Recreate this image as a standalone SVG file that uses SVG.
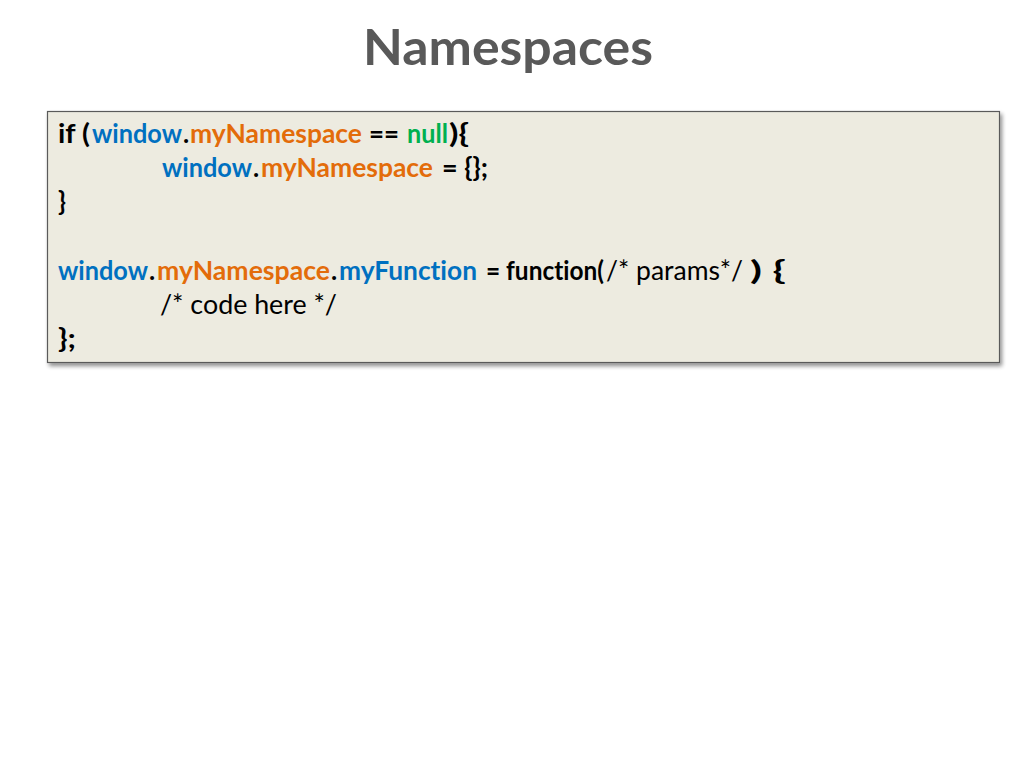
<svg xmlns="http://www.w3.org/2000/svg" width="1024" height="768" viewBox="0 0 1024 768">
  <style>
    .title { font-family: Lato, "Open Sans", "Liberation Sans", sans-serif; font-weight: 700; font-size: 50px; fill: #595959; }
    .code { font-family: Lato, "Open Sans", "Liberation Sans", sans-serif; font-weight: 700; font-size: 26px; fill: #000000; font-variant-ligatures: none; }
    .reg { font-weight: 400; }
    .b { fill: #0070C0; }
    .o { fill: #E36C0A; }
    .g { fill: #00B050; }
  </style>
  <defs>
    <filter id="shadow" x="-5%" y="-5%" width="110%" height="115%">
      <feGaussianBlur in="SourceAlpha" stdDeviation="2"/>
      <feOffset dx="2" dy="3" result="off"/>
      <feComponentTransfer><feFuncA type="linear" slope="0.45"/></feComponentTransfer>
      <feMerge><feMergeNode/><feMergeNode in="SourceGraphic"/></feMerge>
    </filter>
  </defs>
  <rect width="1024" height="768" fill="#FFFFFF"/>
  <g id="title">
    <text class="title" x="363" y="65" textLength="290" lengthAdjust="spacingAndGlyphs">Namespaces</text>
  </g>
  <g id="codebox">
    <rect x="47.5" y="111.5" width="952" height="251" fill="#EDEBE0" stroke="#5A5A5A" stroke-width="1.2" filter="url(#shadow)"/>
    <text class="code" y="143"><tspan x="58" textLength="32" lengthAdjust="spacingAndGlyphs">if (</tspan><tspan class="b" x="92" textLength="90" lengthAdjust="spacingAndGlyphs">window</tspan><tspan x="183">.</tspan><tspan class="o" x="190" textLength="172" lengthAdjust="spacingAndGlyphs">myNamespace</tspan><tspan x="369" textLength="30" lengthAdjust="spacingAndGlyphs">==</tspan><tspan class="g" x="407" textLength="41" lengthAdjust="spacingAndGlyphs">null</tspan><tspan x="449" textLength="20" lengthAdjust="spacingAndGlyphs">){</tspan></text>
    <text class="code" y="177"><tspan class="b" x="162" textLength="90" lengthAdjust="spacingAndGlyphs">window</tspan><tspan x="253">.</tspan><tspan class="o" x="261" textLength="172" lengthAdjust="spacingAndGlyphs">myNamespace</tspan><tspan x="442" textLength="46" lengthAdjust="spacingAndGlyphs">= {};</tspan></text>
    <text class="code" x="58" y="211">}</text>
    <text class="code" y="280"><tspan class="b" x="58" textLength="90" lengthAdjust="spacingAndGlyphs">window</tspan><tspan x="149">.</tspan><tspan class="o" x="157" textLength="173" lengthAdjust="spacingAndGlyphs">myNamespace</tspan><tspan x="331">.</tspan><tspan class="b" x="339" textLength="138" lengthAdjust="spacingAndGlyphs">myFunction</tspan><tspan x="486" textLength="118" lengthAdjust="spacingAndGlyphs">= function(</tspan><tspan class="reg" x="606" textLength="137" lengthAdjust="spacingAndGlyphs">/* params*/</tspan><tspan x="750" textLength="36" lengthAdjust="spacingAndGlyphs">) {</tspan></text>
    <text class="code reg" x="160" y="314" textLength="177" lengthAdjust="spacingAndGlyphs">/* code here */</text>
    <text class="code" x="58" y="348" textLength="18" lengthAdjust="spacingAndGlyphs">};</text>
  </g>
</svg>
